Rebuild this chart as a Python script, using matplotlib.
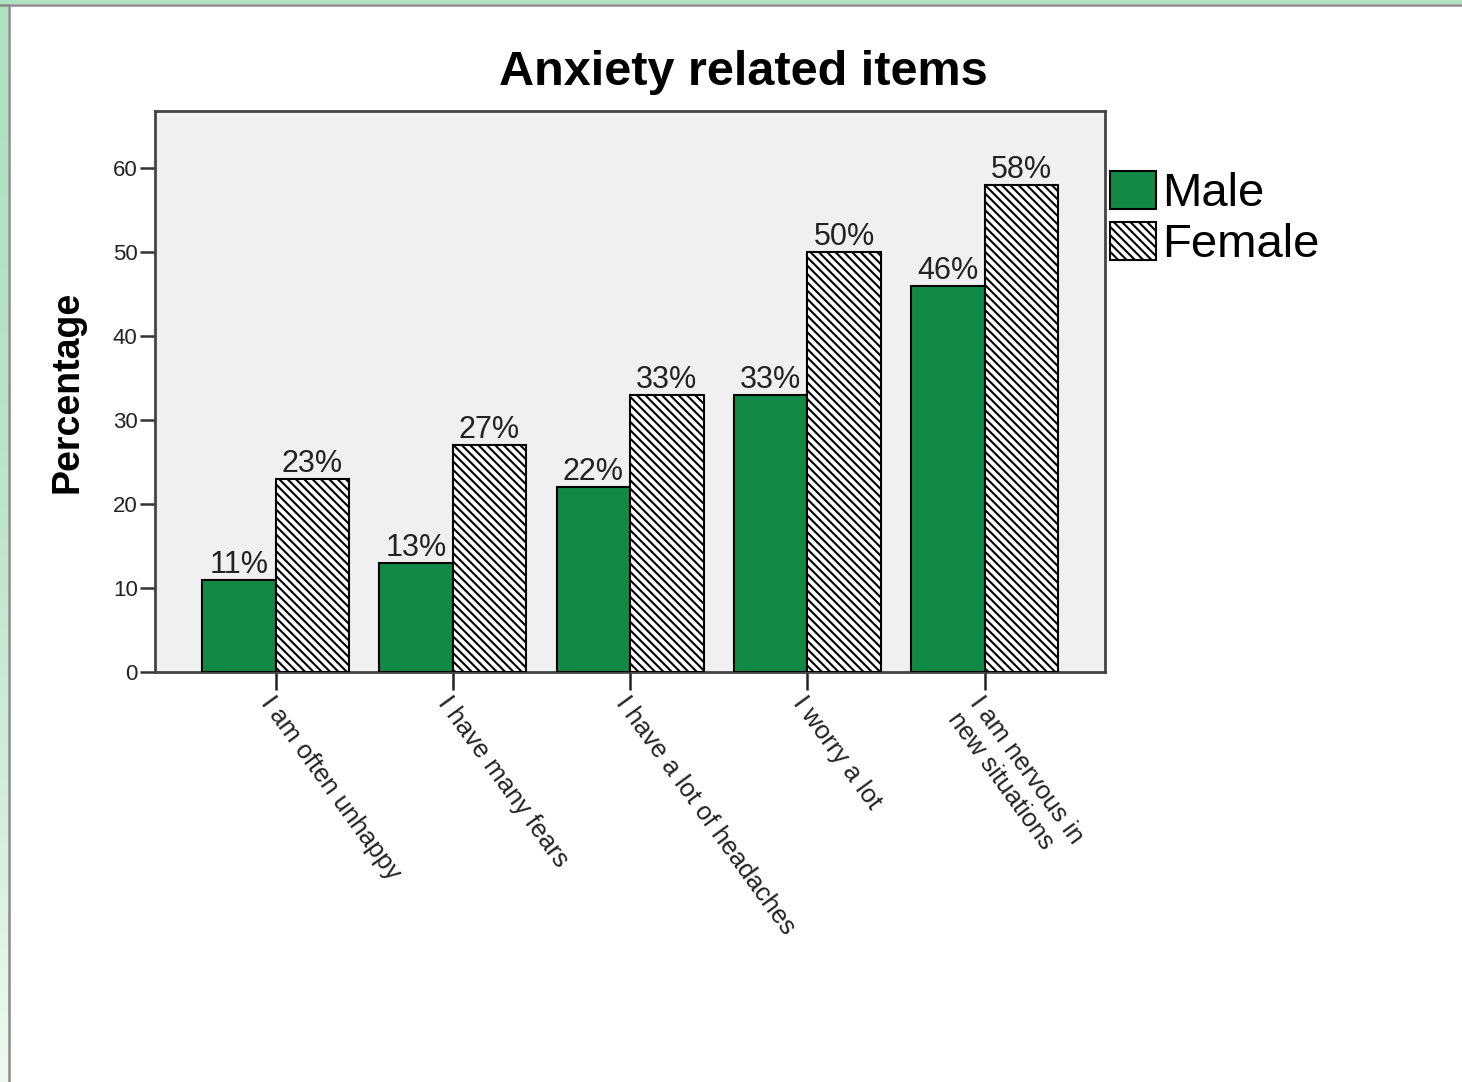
import numpy as np
import matplotlib
matplotlib.use("Agg")
import matplotlib.pyplot as plt
from matplotlib.patches import Rectangle
from matplotlib.lines import Line2D

plt.rcParams['font.family'] = ['Liberation Sans', 'DejaVu Sans']
plt.rcParams['hatch.linewidth'] = 1.5

categories = ["I am often unhappy", "I have many fears", "I have a lot of headaches",
              "I worry a lot", "I am nervous in\nnew situations"]
male = [11, 13, 22, 33, 46]
female = [23, 27, 33, 50, 58]
series_names = ["Male", "Female"]
yticks = [0, 10, 20, 30, 40, 50, 60]

W, H = 1462, 1082
fig = plt.figure(figsize=(W / 100, H / 100), dpi=100)
fig.patch.set_facecolor('white')

# decorative frame (green strips with gray line)
strip = fig.add_axes([0, 0, 8 / W, 1], zorder=-5)
grad = np.linspace(0, 1, 256).reshape(-1, 1)
c_top = np.array([0.69, 0.88, 0.76])
c_bot = np.array([0.94, 0.98, 0.95])
img = c_top[None, None, :] * (1 - grad[..., None] ** 2) + c_bot[None, None, :] * grad[..., None] ** 2
strip.imshow(img, aspect='auto', extent=[0, 1, 0, 1])
strip.axis('off')
fig.patches.append(Rectangle((0, 1 - 4 / H), 1, 4 / H, transform=fig.transFigure,
                             facecolor='#b1e0c4', edgecolor='none', zorder=-4))
fig.lines.append(Line2D([0, 1], [1 - 5 / H, 1 - 5 / H], transform=fig.transFigure,
                        color='#8a8a8a', lw=1.8))
fig.lines.append(Line2D([9 / W, 9 / W], [0, 1 - 5 / H], transform=fig.transFigure,
                        color='#8a8a8a', lw=1.8))

ax = fig.add_axes([155 / W, 1 - 672 / H, 950 / W, 561 / H])
ax.set_facecolor('#f0f0f0')

x = np.arange(len(categories))
w = 0.4145
b1 = ax.bar(x - w / 2, male, w, color='#128a45', edgecolor='black', linewidth=1.5,
            label=series_names[0], zorder=3)
b2 = ax.bar(x + w / 2, female, w, color='white', edgecolor='black', linewidth=1.5,
            hatch='\\\\\\\\', label=series_names[1], zorder=3)

for bars, vals in ((b1, male), (b2, female)):
    for bar, v in zip(bars, vals):
        ax.annotate(f"{v}%", (bar.get_x() + bar.get_width() / 2, v),
                    xytext=(0, 5), textcoords='offset points', ha='center',
                    va='baseline', fontsize=22, color='#222222')

ax.set_xlim(-0.68, 4.679)
ax.set_ylim(0, 66.8)
ax.set_yticks(yticks)
ax.set_yticklabels([str(t) for t in yticks])
ax.set_xticks(x)
ax.set_xticklabels(categories)
ax.tick_params(axis='y', direction='out', length=11, width=1.8, pad=1.5,
               labelsize=16, colors='#333333', labelcolor='#222222')
ax.tick_params(axis='x', direction='out', length=13, width=1.8, pad=1,
               labelsize=18.5, colors='#222222')
for lab in ax.get_xticklabels():
    lab.set_rotation(-54)
    lab.set_ha('left')
    lab.set_va('top')
    lab.set_rotation_mode('anchor')
    lab.set_multialignment('left')

for s in ax.spines.values():
    s.set_color('#444444')
    s.set_linewidth(2)

ax.set_ylabel("Percentage", fontsize=27, fontweight='bold', color='black')
ax.yaxis.set_label_coords(-0.073, 0.5)

fig.text(743 / W, 1 - 85 / H, "Anxiety related items", ha='center', va='baseline',
         fontsize=35, fontweight='bold', color='black')

leg = fig.legend(handles=[b1, b2], labels=series_names, loc='upper left',
                 bbox_to_anchor=(1110 / W, 1 - 171 / H), frameon=False,
                 fontsize=34, handlelength=0.98, handleheight=0.85,
                 handletextpad=0.12, labelspacing=0.12, borderpad=0, borderaxespad=0)

fig.savefig("out.png", dpi=100, facecolor=fig.get_facecolor())
